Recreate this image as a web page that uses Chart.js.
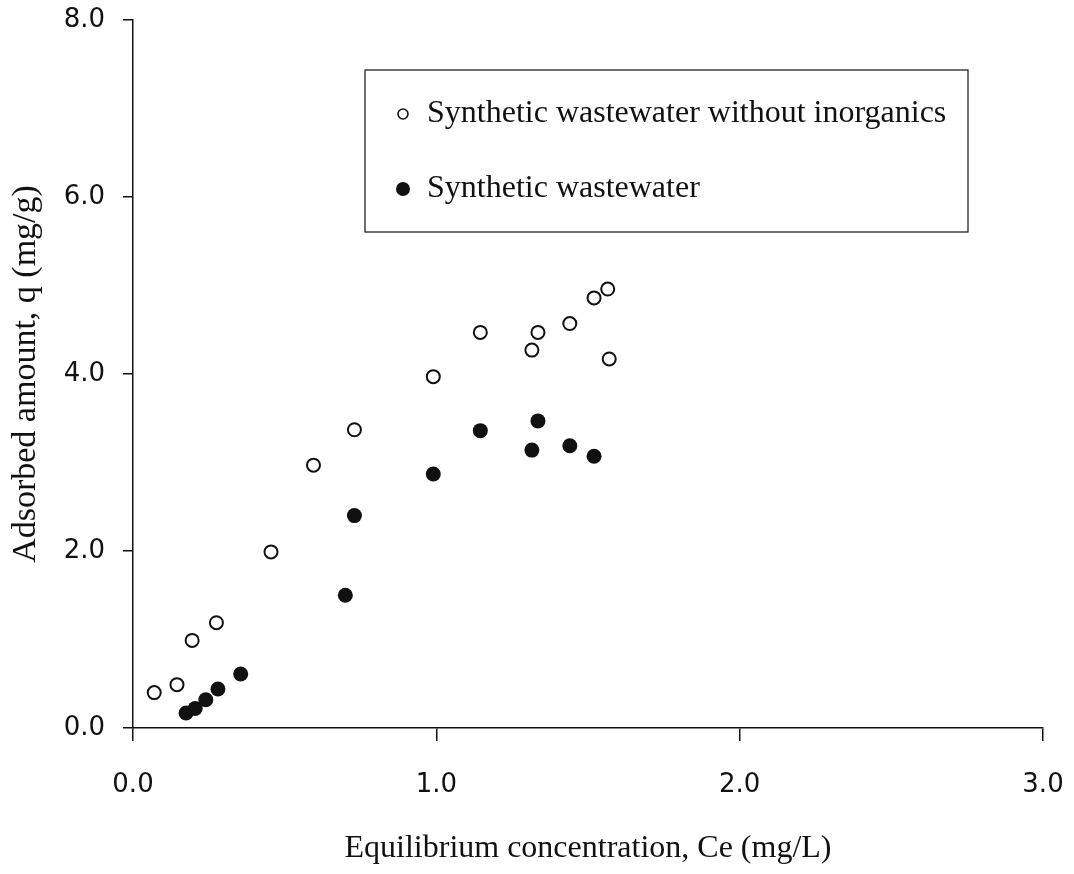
<!DOCTYPE html>
<html>
<head>
<meta charset="utf-8">
<script src="https://cdn.jsdelivr.net/npm/chart.js@4"></script>
<style>
  html, body { margin: 0; padding: 0; background: #fff; }
  #wrap { width: 1074px; height: 874px; }
</style>
</head>
<body>
<div id="wrap"><canvas id="chart" width="1074" height="874"></canvas></div>
<script>
// Equilibrium concentration Ce (mg/L) vs adsorbed amount q (mg/g)
const seriesLabels = [
  'Synthetic wastewater without inorganics',
  'Synthetic wastewater'
]
const noInorganicsCe = [0.07, 0.145, 0.195, 0.275, 0.455, 0.595, 0.73, 0.99, 1.145, 1.315, 1.335, 1.44, 1.52, 1.565, 1.57]
const noInorganicsQ  = [0.40, 0.49, 0.99, 1.19, 1.99, 2.97, 3.37, 3.97, 4.47, 4.27, 4.47, 4.57, 4.86, 4.96, 4.17]
const wastewaterCe = [0.175, 0.205, 0.24, 0.28, 0.355, 0.70, 0.73, 0.99, 1.145, 1.315, 1.335, 1.44, 1.52]
const wastewaterQ  = [0.17, 0.22, 0.32, 0.44, 0.61, 1.50, 2.40, 2.87, 3.36, 3.14, 3.47, 3.19, 3.07]
const xTicks = [0, 1, 2, 3]
const yTicks = [0, 2, 4, 6, 8]

const SERIF = "'Liberation Serif', 'Times New Roman', serif"
const SANS = "'DejaVu Sans', sans-serif"
const ink = '#111'

const toPoints = (xs, ys) => xs.map((x, i) => ({ x, y: ys[i] }))

// legend drawn as a boxed panel inside the plot
const boxLegend = {
  id: 'boxLegend',
  afterDraw(chart) {
    const { ctx } = chart
    const box = { x: 365, y: 70, w: 603, h: 162 }
    ctx.save()
    ctx.strokeStyle = ink
    ctx.lineWidth = 1.2
    ctx.strokeRect(box.x, box.y, box.w, box.h)
    ctx.font = `32px ${SERIF}`
    ctx.textBaseline = 'middle'
    chart.data.datasets.forEach((ds, i) => {
      const cy = box.y + 44 + i * 75
      const filled = ds.pointBackgroundColor === ink
      ctx.beginPath()
      ctx.arc(box.x + 38, cy, filled ? 7 : 5, 0, Math.PI * 2)
      ctx.lineWidth = 1.6
      if (filled) {
        ctx.fillStyle = ink
        ctx.fill()
      } else {
        ctx.stroke()
      }
      ctx.fillStyle = ink
      ctx.fillText(ds.label, box.x + 62, cy)
    })
    ctx.restore()
  }
}

new Chart(document.getElementById('chart'), {
  type: 'scatter',
  data: {
    datasets: [
      {
        label: seriesLabels[0],
        data: toPoints(noInorganicsCe, noInorganicsQ),
        pointRadius: 6.5,
        pointBorderWidth: 2,
        pointBorderColor: ink,
        pointBackgroundColor: '#fff'
      },
      {
        label: seriesLabels[1],
        data: toPoints(wastewaterCe, wastewaterQ),
        pointRadius: 7.5,
        pointBorderWidth: 0,
        pointBorderColor: ink,
        pointBackgroundColor: ink
      }
    ]
  },
  options: {
    responsive: false,
    animation: false,
    layout: { padding: { left: 0, top: 20, right: 31, bottom: 0 } },
    plugins: {
      legend: { display: false },
      tooltip: { enabled: false }
    },
    scales: {
      x: {
        type: 'linear',
        min: 0,
        max: 3,
        afterFit: (scale) => {
          scale.height = 146
          scale.paddingLeft = 0
          scale.paddingRight = 0
        },
        afterBuildTicks: (scale) => { scale.ticks = xTicks.map(value => ({ value })) },
        border: { display: true, color: ink, width: 1.5 },
        grid: { drawOnChartArea: false, color: ink, lineWidth: 1.5, tickLength: 13 },
        ticks: {
          color: ink,
          padding: 29,
          font: { family: SANS, size: 26 },
          callback: v => v.toFixed(1)
        },
        title: {
          display: true,
          text: 'Equilibrium concentration, Ce (mg/L)',
          color: ink,
          font: { family: SERIF, size: 32 },
          padding: { top: 0, bottom: 6 }
        }
      },
      y: {
        type: 'linear',
        min: 0,
        max: 8,
        afterFit: (scale) => {
          scale.width = 133
          scale.paddingTop = 0
          scale.paddingBottom = 0
        },
        afterBuildTicks: (scale) => { scale.ticks = yTicks.map(value => ({ value })) },
        border: { display: true, color: ink, width: 1.5 },
        grid: { drawOnChartArea: false, color: ink, lineWidth: 1.5, tickLength: 10 },
        ticks: {
          color: ink,
          padding: 18,
          font: { family: SANS, size: 26 },
          callback: v => v.toFixed(1)
        },
        title: {
          display: true,
          text: 'Adsorbed amount, q (mg/g)',
          color: ink,
          font: { family: SERIF, size: 34 },
          padding: { top: 6, bottom: 0 }
        }
      }
    }
  },
  plugins: [boxLegend]
})
</script>
</body>
</html>
